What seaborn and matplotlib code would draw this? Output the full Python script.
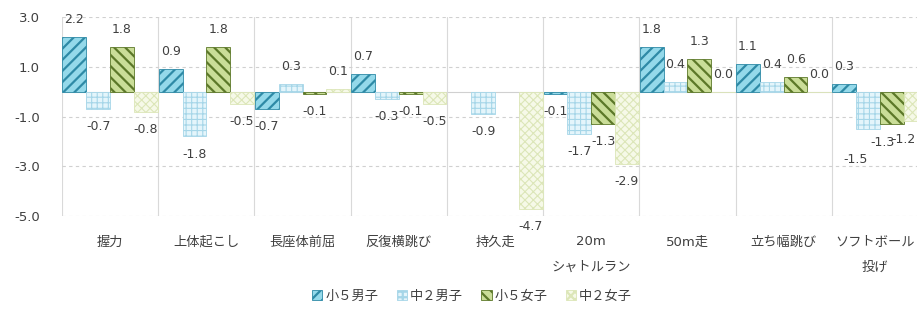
import numpy as np
import pandas as pd
import matplotlib
matplotlib.use("Agg")
import matplotlib.pyplot as plt
from matplotlib.ticker import FixedLocator
from matplotlib.transforms import ScaledTranslation
from matplotlib.patches import Patch
import seaborn as sns

categories = ["握力", "上体起こし", "長座体前屈", "反復横跳び", "持久走",
              "20m\nシャトルラン", "50m走", "立ち幅跳び", "ソフトボール\n投げ"]
series = ["小５男子", "中２男子", "小５女子", "中２女子"]
sho5_boys = [2.2, 0.9, -0.7, 0.7, np.nan, -0.1, 1.8, 1.1, 0.3]
chu2_boys = [-0.7, -1.8, 0.3, -0.3, -0.9, -1.7, 0.4, 0.4, -1.5]
sho5_girls = [1.8, 1.8, -0.1, -0.1, np.nan, -1.3, 1.3, 0.6, -1.3]
chu2_girls = [-0.8, -0.5, 0.1, -0.5, -4.7, -2.9, 0.0, 0.0, -1.2]
yticks = [3.0, 1.0, -1.0, -3.0, -5.0]

values = [sho5_boys, chu2_boys, sho5_girls, chu2_girls]
rows = []
for s, vals in zip(series, values):
    for c, v in zip(categories, vals):
        rows.append({"category": c, "series": s, "value": v})
df = pd.DataFrame(rows)

sns.set_theme(style="white")
plt.rcParams["font.family"] = ["DejaVu Sans", "Noto Sans CJK JP"]
plt.rcParams["axes.unicode_minus"] = False
plt.rcParams["hatch.linewidth"] = 1.6

fig = plt.figure(figsize=(9.17, 3.13), dpi=100)
ax = fig.add_axes([62 / 917, 1 - 216 / 313, 866 / 917, (216 - 17) / 313])

styles = {
    "小５男子": dict(face="#94d9ea", hatch="///", ec="#2e8aa6"),
    "中２男子": dict(face="#e4f5fb", hatch="+++", ec="#a6d6e8"),
    "小５女子": dict(face="#cadd98", hatch="\\\\\\", ec="#5c7829"),
    "中２女子": dict(face="#f6f9e8", hatch="xxxx", ec="#dce6b8"),
}
palette = {s: styles[s]["face"] for s in series}

sns.barplot(data=df, x="category", y="value", hue="series", order=categories,
            hue_order=series, palette=palette, width=0.99, ax=ax,
            errorbar=None, legend=False, saturation=1)

# label nudges for the crowded last category (points)
last_nudge = {"中２男子": (-9, -17), "小５女子": (-7, -9), "中２女子": (-9, -8)}

for cont, s in zip(ax.containers, series):
    st = styles[s]
    for p in cont.patches:
        p.set_facecolor(st["face"])
        p.set_edgecolor(st["ec"])
        p.set_hatch(st["hatch"])
        p.set_linewidth(0.6)
        if s in ("中２男子", "中２女子") and hasattr(p, "set_hatch_linewidth"):
            p.set_hatch_linewidth(0.8)
    labels = ["" if np.isnan(v) else f"{v:.1f}" for v in cont.datavalues]
    anns = ax.bar_label(cont, labels=labels, padding=8, fontsize=9, color="#404040")
    if s in last_nudge and len(anns):
        anns[-1].xyann = last_nudge[s]

ax.set_xlim(-0.5, len(categories) - 0.5)
ax.set_ylim(-5.0, 3.0)
ax.set_yticks(yticks)
ax.set_yticklabels([f"{v:.1f}" for v in yticks])
ax.set_xlabel("")
ax.set_ylabel("")
for sp in ax.spines.values():
    sp.set_visible(False)

ax.grid(axis="y", which="major", color="#d0d0d0", linestyle=(0, (3, 3)), linewidth=0.8)
ax.xaxis.set_minor_locator(FixedLocator(np.arange(-0.5, len(categories), 1.0)))
ax.grid(axis="x", which="minor", color="#d9d9d9", linestyle="-", linewidth=0.8)
ax.grid(axis="x", which="major", visible=False)
ax.axhline(0, color="#d0d0d0", linewidth=0.8, zorder=0.5)
ax.set_axisbelow(True)

ax.tick_params(axis="x", which="both", length=0, pad=14, labelsize=9.5, labelcolor="#404040")
ax.tick_params(axis="y", length=0, pad=16, labelsize=9.5, labelcolor="#404040")
xlabels = ax.get_xticklabels()
for t in xlabels:
    t.set_linespacing(2.2)
    t.set_verticalalignment("top")
xlabels[-1].set_transform(xlabels[-1].get_transform() +
                          ScaledTranslation(-5 / 100, 0, fig.dpi_scale_trans))

handles = [Patch(facecolor=styles[s]["face"], edgecolor=styles[s]["ec"],
                 hatch=styles[s]["hatch"], linewidth=0.6) for s in series]
fig.legend(handles, series, loc="center", bbox_to_anchor=(472 / 917, 1 - 296 / 313),
           ncol=4, frameon=False, fontsize=9.5, handlelength=0.8, handleheight=0.8,
           handletextpad=0.2, columnspacing=1.4, labelcolor="#404040")

fig.savefig("out.png", dpi=100)
